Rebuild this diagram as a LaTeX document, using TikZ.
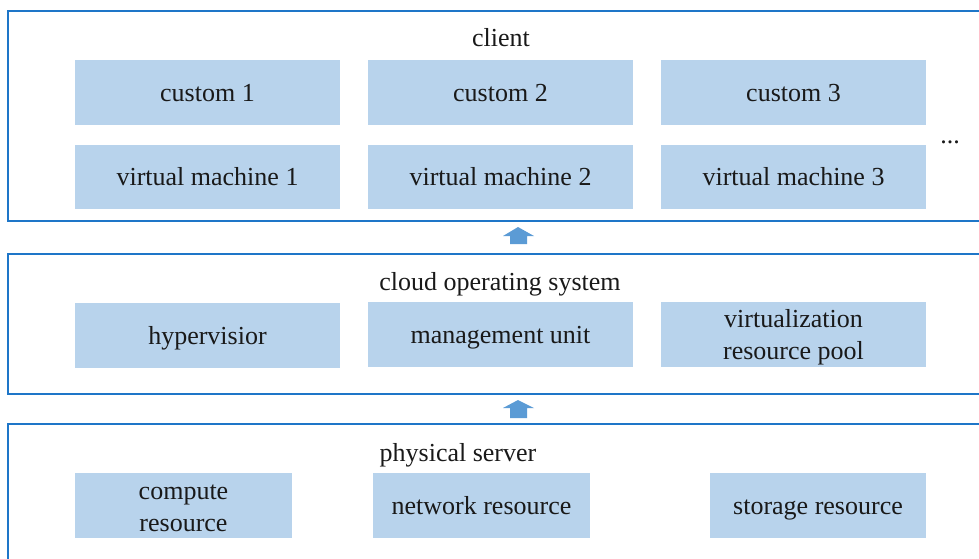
\documentclass[tikz,border=0pt]{standalone}
\usepackage{fontspec}
\setmainfont{Liberation Serif}
\definecolor{framebl}{RGB}{30,118,200}
\definecolor{boxbl}{RGB}{184,211,236}
\definecolor{arrbl}{RGB}{91,155,213}
\tikzset{
  txt/.style={font=\fontsize{14.8}{18.2}\selectfont, text=black!90},
  unit/.style={txt, fill=boxbl, minimum width=5.3cm, minimum height=1.3cm, inner sep=0pt, align=center, text height=10pt, text depth=0pt},
  twoline/.style={label={[txt, align=center, yshift=-1.7pt]center:{#1}}},
  hwunit/.style={unit, minimum width=4.34cm},
  layer/.style={draw=framebl, line width=1.1pt},
}

\begin{document}
\begin{tikzpicture}[x=0.02cm,y=-0.02cm]
\useasboundingbox (0,0) rectangle (979,558);
\clip (0,0) rectangle (979,558);
% layers
\draw[layer] (8,11) rectangle (1000,221);
\draw[layer] (8,254) rectangle (1000,394);
\draw[layer] (8,424) rectangle (1000,600);
% client
\node[txt, anchor=base] (client) at (501,46) {client};
\node[unit] (cu1) at (207.5,92.5) {custom 1};
\node[unit] (cu2) at (500.5,92.5) {custom 2};
\node[unit] (cu3) at (793.5,92.5) {custom 3};
\node[unit] (vm1) at (207.5,177) {virtual machine 1};
\node[unit] (vm2) at (500.5,177) {virtual machine 2};
\node[unit] (vm3) at (793.5,177) {virtual machine 3};
\node[txt, anchor=base] (more) at (950,143) {...};
% cloud os
\node[txt, anchor=base] (cos) at (500,290) {cloud operating system};
\node[unit] (hyp) at (207.5,335.5) {hypervisior};
\node[unit] (mgmt) at (500.5,334.5) {management unit};
\node[unit, twoline={virtualization\\resource pool}] (pool) at (793.5,334.5) {};
% physical server
\node[txt, anchor=base] (phys) at (458,461) {physical server};
\node[hwunit, twoline={compute\\resource}] (comp) at (183.5,505.5) {};
\node[hwunit] (net) at (481.5,505.5) {network resource};
\node[hwunit] (stor) at (818,505.5) {storage resource};
% arrows between layers
\coordinate (up1) at (518,227);
\coordinate (up2) at (518,400);
\fill[arrbl] (up1) -- ++(16,9) -- ++(-7,0) -- ++(0,8) -- ++(-17,0) -- ++(0,-8) -- ++(-7,0) -- cycle;
\fill[arrbl] (up2) -- ++(16,8) -- ++(-7,0) -- ++(0,10) -- ++(-17,0) -- ++(0,-10) -- ++(-7,0) -- cycle;
\end{tikzpicture}
\end{document}
